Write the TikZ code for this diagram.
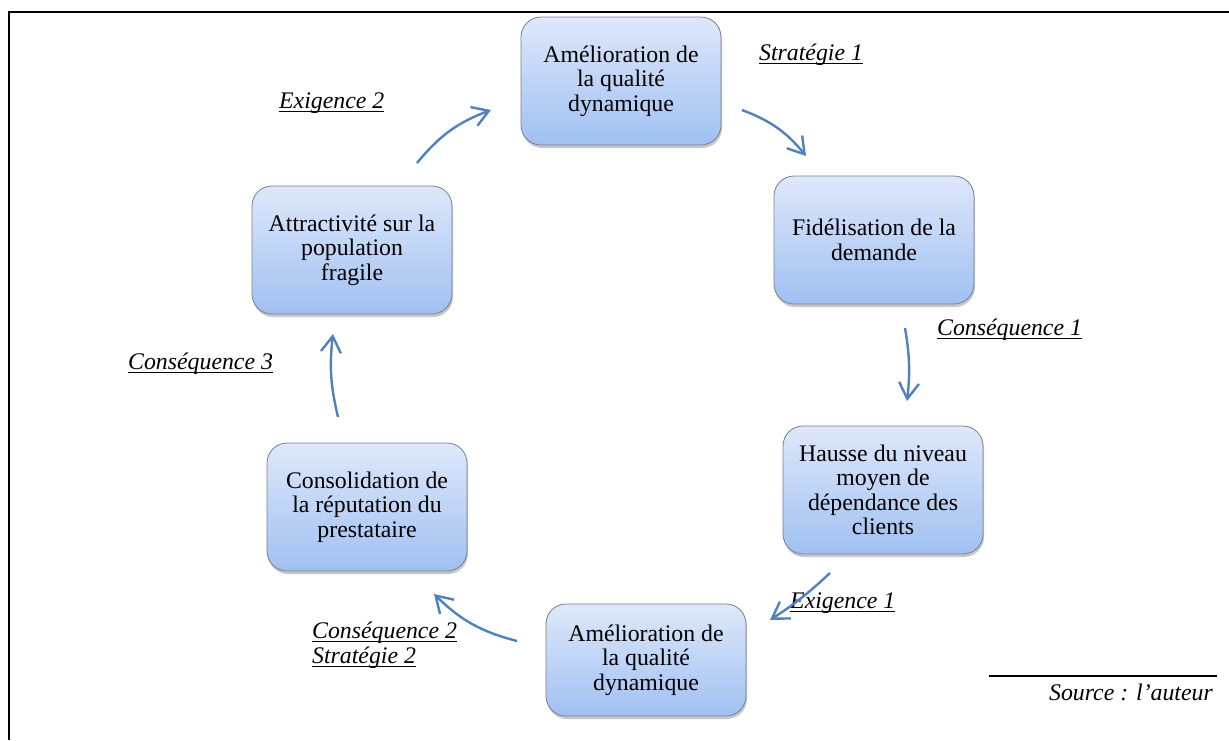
\documentclass[tikz,border=0pt]{standalone}
\usepackage{fontspec}
\setmainfont{Liberation Serif}
\usetikzlibrary{arrows.meta,calc,shadows}

\definecolor{boxtop}{RGB}{222,232,250}
\definecolor{boxbot}{RGB}{160,192,242}
\definecolor{boxline}{RGB}{120,128,145}
\definecolor{arrblue}{RGB}{79,129,189}

\newcommand{\txtsize}{\fontsize{23.8}{24.5}\selectfont}
\newcommand{\souligne}[1]{\setbox0\hbox{#1}\rlap{\vrule height -3pt depth 4.3pt width \wd0}\box0}

\begin{document}
\begin{tikzpicture}[x=1pt, y=-1pt,
	box/.style={rounded corners=20pt, draw=boxline, line width=0.8pt,
		top color=boxtop, bottom color=boxbot,
		minimum width=200pt, minimum height=128pt, inner sep=0pt,
		align=center, font=\txtsize,
		drop shadow={shadow xshift=1pt, shadow yshift=-3pt, fill=black, opacity=0.22}},
	lbl/.style={anchor=base west, inner sep=0pt, font=\txtsize\itshape},
	arr/.style={-{Straight Barb[length=16pt,width=20pt]}, line width=2.4pt, draw=arrblue}]

	\useasboundingbox (0,0) rectangle (1229,740);

	% cadre
	\draw[line width=1.3pt] (9,740) -- (9,12) -- (1229,12);

	% boites
	\node[box]                      (amelio)  at (621,81)  {Amélioration de\\la qualité\\dynamique};
	\node[box]                      (fidel)   at (874,240) {Fidélisation de la\\demande};
	\node[box]                      (hausse)  at (883,490) {Hausse du niveau\\moyen de\\dépendance des\\clients};
	\node[box, minimum height=112pt] (amelio2) at (646,660) {Amélioration de\\la qualité\\dynamique};
	\node[box]                      (consol)  at (367,507) {Consolidation de\\la réputation du\\prestataire};
	\node[box]                      (attract) at (352,250) {Attractivité sur la\\population\\fragile};

	% etiquettes
	\node[lbl] (strat1) at (759,60)  {\souligne{Stratégie 1}};
	\node[lbl] (cons1)  at (937,335) {\souligne{Conséquence 1}};
	\node[lbl] (exig1)  at (790,608) {\souligne{Exigence 1}};
	\node[lbl] (cons2)  at (312,638) {\souligne{Conséquence 2}};
	\node[lbl] (strat2) at (312,663) {\souligne{Stratégie 2}};
	\node[lbl] (cons3)  at (128,369) {\souligne{Conséquence 3}};
	\node[lbl] (exig2)  at (279,108) {\souligne{Exigence 2}};

	\node[lbl, anchor=base east] (source) at (1213,700) {Source : l'auteur};
	\draw[line width=1.3pt] (989,676) -- (1217,676);

	% fleches
	\path ($(amelio)+(121,29)$)    edge [arr, bend left=15] ($(fidel)+(-68,-84)$);
	\path ($(fidel)+(31,88)$)      edge [arr, bend left=8]  ($(hausse)+(24,-89)$);
	\path ($(hausse)+(-53,83)$)    edge [arr, bend left=5]  ($(amelio2)+(124,-40)$);
	\path ($(amelio2)+(-129,-19)$) edge [arr, bend left=15] ($(consol)+(67,87)$);
	\path ($(consol)+(-29,-90)$)   edge [arr, bend left=10] ($(attract)+(-19,84)$);
	\path ($(attract)+(65,-87)$)   edge [arr, bend left=15] ($(amelio)+(-130,29)$);
\end{tikzpicture}
\end{document}
